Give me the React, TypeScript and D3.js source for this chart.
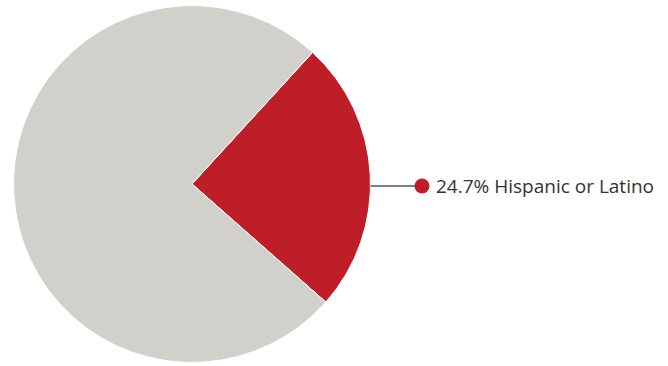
import React from "react";
import * as d3 from "d3";

const categories = ["Hispanic or Latino", "Other"];
const values = [24.7, 75.3];
const colors = ["#be1e27", "#d1d0ca"];
const labelText = "24.7% Hispanic or Latino";

export default function App() {
  const width = 668;
  const height = 366;
  const cx = 192;
  const cy = 184;
  const r = 178.5;
  const start = (42.5 * Math.PI) / 180;
  const pie = d3
    .pie<number>()
    .sort(null)
    .value((d) => d)
    .startAngle(start)
    .endAngle(start + 2 * Math.PI);
  const arcs = pie(values);
  const arc = d3.arc<d3.PieArcDatum<number>>().innerRadius(0).outerRadius(r);
  const ly = cy + 2;
  const lx = cx + Math.sqrt(r * r - 4);
  return (
    <svg
      width={width}
      height={height}
      style={{ position: "absolute", left: 0, top: 0, display: "block" }}
    >
      <rect width={width} height={height} fill="#fff" />
      <g transform={`translate(${cx},${cy})`}>
        {arcs.map((a, i) => (
          <path
            key={categories[i]}
            d={arc(a) || ""}
            fill={colors[i]}
            stroke="#fff"
            strokeWidth={1}
          />
        ))}
      </g>
      <line x1={lx} y1={ly} x2={418} y2={ly} stroke="#555" strokeWidth={1.5} />
      <circle cx={422} cy={ly} r={7.5} fill={colors[0]} />
      <text
        x={436}
        y={ly + 7}
        fontFamily="Open Sans"
        fontSize={19}
        fill="#333"
      >
        {labelText}
      </text>
    </svg>
  );
}
